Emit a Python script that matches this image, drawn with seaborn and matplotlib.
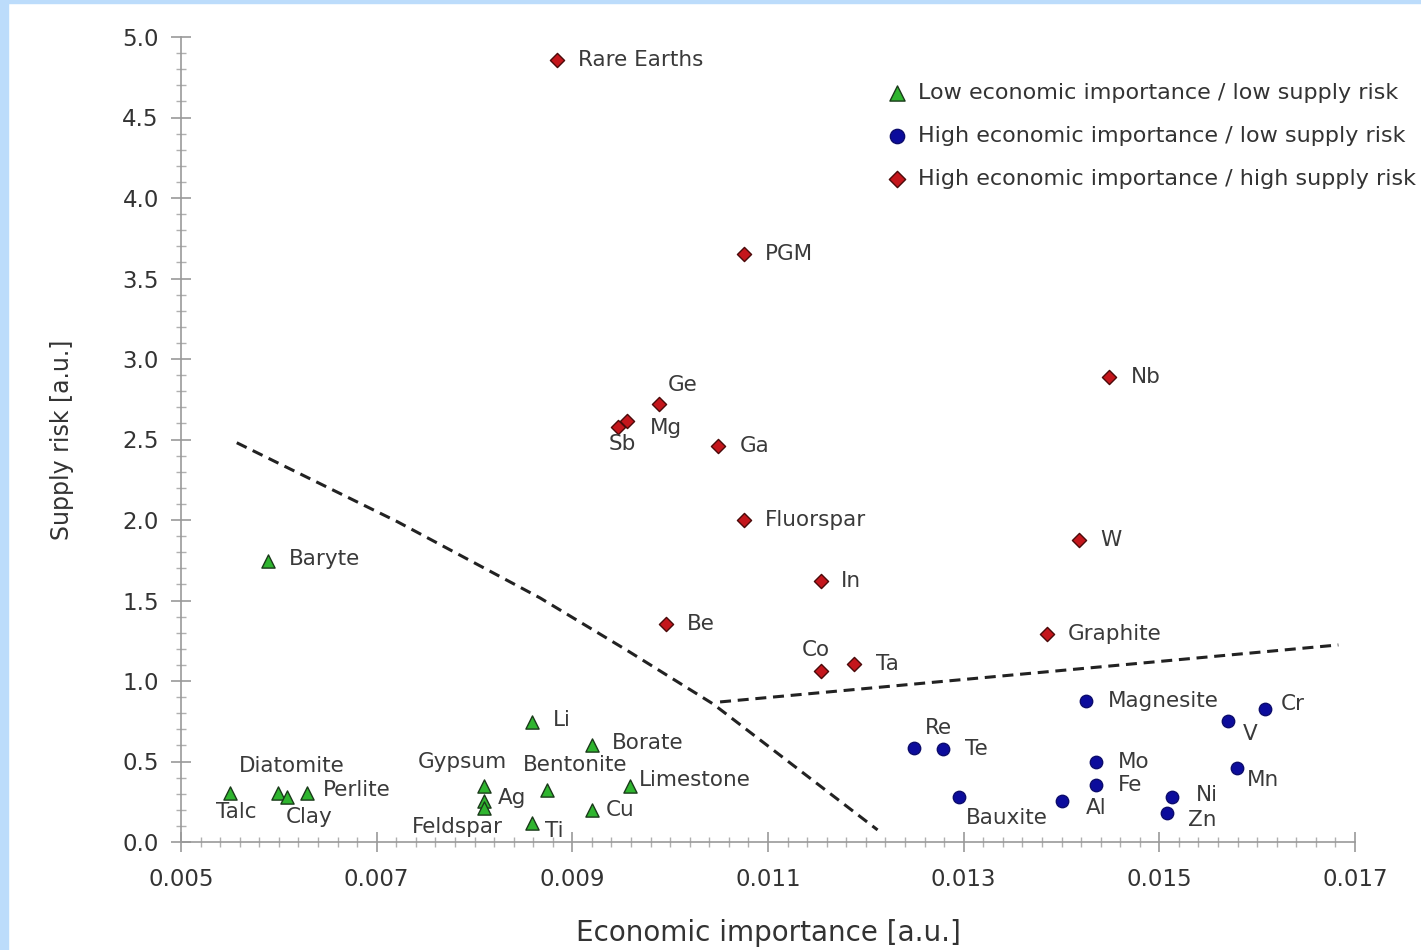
import pandas as pd
import matplotlib.pyplot as plt
import seaborn as sns
from matplotlib.ticker import MultipleLocator
from matplotlib.patches import Rectangle

# high economic importance / high supply risk
red_names = ['Rare Earths', 'PGM', 'Nb', 'Ge', 'Mg', 'Sb', 'Ga', 'Fluorspar', 'W',
             'In', 'Be', 'Graphite', 'Co', 'Ta']
red_x = [0.00884, 0.01075, 0.01449, 0.00989, 0.00956, 0.00947, 0.01049, 0.01075, 0.01418,
         0.01154, 0.00996, 0.01385, 0.01154, 0.01188]
red_y = [4.86, 3.65, 2.89, 2.72, 2.615, 2.58, 2.46, 2.0, 1.875,
         1.62, 1.355, 1.29, 1.06, 1.105]

# high economic importance / low supply risk
blue_names = ['Magnesite', 'Cr', 'V', 'Re', 'Te', 'Mo', 'Mn', 'Fe', 'Bauxite', 'Al', 'Ni', 'Zn']
blue_x = [0.01425, 0.01608, 0.01570, 0.01249, 0.01279, 0.01435, 0.01579, 0.01435,
          0.01295, 0.01400, 0.01513, 0.01508]
blue_y = [0.875, 0.825, 0.75, 0.585, 0.578, 0.497, 0.46, 0.354, 0.28, 0.255, 0.28, 0.18]

# low economic importance / low supply risk
green_names = ['Baryte', 'Li', 'Borate', 'Talc', 'Diatomite', 'Clay', 'Perlite', 'Gypsum',
               'Ag', 'Feldspar', 'Bentonite', 'Limestone', 'Cu', 'Ti']
green_x = [0.00589, 0.00859, 0.00920, 0.00550, 0.00599, 0.00608, 0.00629, 0.00810,
           0.00810, 0.00810, 0.00874, 0.00959, 0.00920, 0.00859]
green_y = [1.745, 0.745, 0.60, 0.304, 0.304, 0.28, 0.304, 0.348,
           0.255, 0.21, 0.323, 0.348, 0.20, 0.118]

# lineas discontinuas de separacion
curve_x = [0.00557, 0.00721, 0.00867, 0.00956, 0.01044, 0.01128, 0.01212]
curve_y = [2.48, 1.99, 1.516, 1.19, 0.857, 0.466, 0.075]
line_x = [0.01051, 0.01683]
line_y = [0.870, 1.224]

groups = ['Low economic importance / low supply risk',
          'High economic importance / low supply risk',
          'High economic importance / high supply risk']

df = pd.concat([
    pd.DataFrame({'name': green_names, 'x': green_x, 'y': green_y, 'grupo': groups[0]}),
    pd.DataFrame({'name': blue_names, 'x': blue_x, 'y': blue_y, 'grupo': groups[1]}),
    pd.DataFrame({'name': red_names, 'x': red_x, 'y': red_y, 'grupo': groups[2]}),
], ignore_index=True)

# desplazamiento de etiquetas en pixeles (dx, dy, ha)
offsets = {
    'Rare Earths': (21, 0, 'left'), 'PGM': (21, 0, 'left'), 'Nb': (21, 0, 'left'),
    'Ge': (8, 19, 'left'), 'Mg': (23, -7, 'left'), 'Sb': (4, -17, 'center'),
    'Ga': (22, 0, 'left'), 'Fluorspar': (21, 0, 'left'), 'W': (21, 0, 'left'),
    'In': (20, 0, 'left'), 'Be': (21, 0, 'left'), 'Graphite': (21, 0, 'left'),
    'Co': (-5, 21, 'center'), 'Ta': (22, 0, 'left'),
    'Magnesite': (22, 0, 'left'), 'Cr': (16, 5, 'left'), 'V': (15, -13, 'left'),
    'Re': (25, 20, 'center'), 'Te': (22, 0, 'left'), 'Mo': (22, 0, 'left'),
    'Mn': (10, -12, 'left'), 'Fe': (22, 0, 'left'), 'Bauxite': (7, -21, 'left'),
    'Al': (24, -7, 'left'), 'Ni': (24, 2, 'left'), 'Zn': (21, -7, 'left'),
    'Baryte': (21, 2, 'left'), 'Li': (21, 2, 'left'), 'Borate': (20, 2, 'left'),
    'Talc': (6, -19, 'center'), 'Diatomite': (14, 27, 'center'), 'Clay': (-1, -20, 'left'),
    'Perlite': (16, 3, 'left'), 'Gypsum': (-22, 24, 'center'), 'Ag': (14, 3, 'left'),
    'Feldspar': (-27, -19, 'center'), 'Bentonite': (28, 25, 'center'),
    'Limestone': (9, 6, 'left'), 'Cu': (14, 0, 'left'), 'Ti': (13, -8, 'left'),
}

sns.set_style('white')
plt.rcParams['font.family'] = ['DejaVu Sans']

fig = plt.figure(figsize=(14.21, 9.5), dpi=100)
ax = fig.add_axes([181 / 1421, 1 - 842 / 950, (1355 - 181) / 1421, (842 - 37) / 950])

# marco azul claro a la izquierda y arriba
fig.patches.append(Rectangle((0, 0), 8 / 1421, 1, transform=fig.transFigure,
                             color='#bcdcfb', zorder=0))
fig.patches.append(Rectangle((0, 1 - 3 / 950), 1, 3 / 950, transform=fig.transFigure,
                             color='#bcdcfb', zorder=0))

estilos = {
    groups[0]: dict(marker='^', color='#2fb52f', edgecolor='#1a3a1a', s=90),
    groups[1]: dict(marker='o', color='#0c0c9c', edgecolor='#0c0c6c', s=80),
    groups[2]: dict(marker='D', color='#c4161c', edgecolor='#4a0a0a', s=52),
}
for g in groups:
    sub = df[df['grupo'] == g]
    sns.scatterplot(data=sub, x='x', y='y', ax=ax, label=g, linewidth=1.0,
                    zorder=3, **estilos[g])

ax.plot(curve_x, curve_y, color='#222222', lw=2.2, dashes=(3.6, 2.2), zorder=2)
ax.plot(line_x, line_y, color='#222222', lw=2.2, dashes=(3.6, 2.2), zorder=2)

for _, r in df.iterrows():
    dx, dy, ha = offsets[r['name']]
    ax.annotate(r['name'], (r['x'], r['y']), xytext=(dx, dy), textcoords='offset pixels',
                ha=ha, va='center', fontsize=15.5, color='#3a3a3a', zorder=4)

ax.set_xlim(0.005, 0.017)
ax.set_ylim(0, 5)
ax.xaxis.set_minor_locator(MultipleLocator(0.0002))
ax.yaxis.set_minor_locator(MultipleLocator(0.1))
ax.set_xticks([0.005, 0.007, 0.009, 0.011, 0.013, 0.015, 0.017])
ax.set_xticklabels(['0.005', '0.007', '0.009', '0.011', '0.013', '0.015', '0.017'])
ax.set_yticks([0, 0.5, 1, 1.5, 2, 2.5, 3, 3.5, 4, 4.5, 5])
ax.set_yticklabels(['0.0', '0.5', '1.0', '1.5', '2.0', '2.5', '3.0', '3.5', '4.0', '4.5', '5.0'])

for lado in ['top', 'right']:
    ax.spines[lado].set_visible(False)
for lado in ['left', 'bottom']:
    ax.spines[lado].set_color('#999999')
    ax.spines[lado].set_linewidth(1.2)

ax.tick_params(which='both', bottom=True, left=True, top=False, right=False)
ax.tick_params(which='major', direction='inout', length=14, width=1.2, color='#999999',
               labelsize=16.5, labelcolor='#333333')
ax.tick_params(which='minor', direction='inout', length=7, width=1.0, color='#b0b0b0')
ax.tick_params(axis='x', which='major', pad=12)
ax.tick_params(axis='y', which='major', pad=9)

ax.set_xlabel('Economic importance [a.u.]', fontsize=20, color='#333333', labelpad=20)
ax.set_ylabel('Supply risk [a.u.]', fontsize=17, color='#333333', labelpad=35)

ax.legend(loc='upper left', bbox_to_anchor=(885 / 1421, 1 - 83 / 950),
          bbox_transform=fig.transFigure, frameon=False, fontsize=16,
          handletextpad=0.38, labelspacing=1.04, borderpad=0, borderaxespad=0,
          handlelength=1.1, markerscale=1.15, labelcolor='#333333')

fig.savefig('out.png', dpi=100)
